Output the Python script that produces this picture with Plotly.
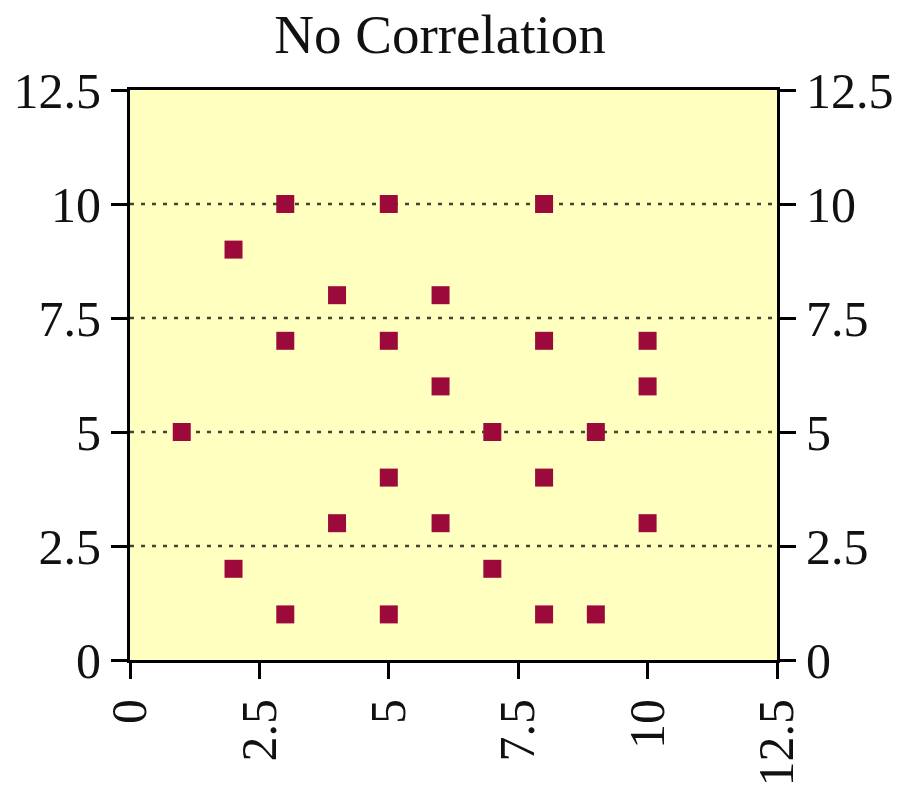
import plotly.graph_objects as go

# Scatter points: x and y values
x_vals = [1, 2, 2, 3, 3, 3, 4, 4, 5, 5, 5, 5, 6, 6, 6, 7, 7, 8, 8, 8, 8, 9, 9, 10, 10, 10]
y_vals = [5, 9, 2, 10, 7, 1, 8, 3, 10, 7, 4, 1, 8, 6, 3, 5, 2, 10, 7, 4, 1, 5, 1, 7, 6, 3]

tick_vals = [0, 2.5, 5, 7.5, 10, 12.5]
tick_text = ["0", "2.5", "5", "7.5", "10", "12.5"]

FONT = "Liberation Serif, Times New Roman, serif"
MARKER_COLOR = "#9B0A3A"
PLOT_BG = "#FFFFC0"

fig = go.Figure()
fig.add_trace(go.Scatter(
    x=x_vals, y=y_vals, mode="markers",
    marker=dict(symbol="square", size=18, color=MARKER_COLOR, line=dict(width=0)),
    showlegend=False, hoverinfo="skip",
))
# invisible trace so the right-hand y axis gets drawn
fig.add_trace(go.Scatter(
    x=[0], y=[0], yaxis="y2", mode="markers",
    marker=dict(opacity=0), showlegend=False, hoverinfo="skip",
))

axis_font = dict(family=FONT, size=50, color="#111111")

common = dict(
    range=[0, 12.5], tickvals=tick_vals, ticktext=tick_text,
    tickfont=axis_font, automargin=False,
    showgrid=False, zeroline=False,
    showline=True, linecolor="black", linewidth=3,
    ticks="outside", ticklen=16, tickwidth=3, tickcolor="black",
    fixedrange=True,
)

fig.update_layout(
    width=899, height=788,
    margin=dict(l=130, r=122, t=90, b=128, autoexpand=False),
    paper_bgcolor="white",
    plot_bgcolor=PLOT_BG,
    title=dict(
        text="No Correlation",
        font=dict(family=FONT, size=55, color="#111111"),
        x=440 / 899, xanchor="center", xref="container",
        y=1 - 34 / 788, yanchor="middle", yref="container",
    ),
    xaxis=dict(common, tickangle=-90, mirror=True),
    yaxis=dict(common, mirror=True),
    yaxis2=dict(common, overlaying="y", side="right", matches="y"),
)

# dotted horizontal gridlines at the interior y ticks
for gy in [2.5, 5, 7.5, 10]:
    fig.add_shape(
        type="line", xref="x", yref="y", x0=0, x1=12.5, y0=gy, y1=gy,
        line=dict(color="#444433", width=2.5, dash="4px,7px"), layer="below",
    )

fig.write_html("out.html")
